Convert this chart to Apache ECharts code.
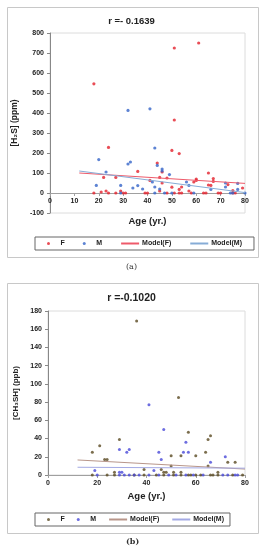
<!DOCTYPE html>
<html><head><meta charset="utf-8">
<script src="https://cdn.jsdelivr.net/npm/echarts@6/dist/echarts.min.js"></script>
<style>html,body{margin:0;padding:0;background:#fff}#c{width:263px;height:550px}</style>
</head><body><div id="c"></div>
<script>
// Panel (a): [H2S] (ppm) vs age
const titleA = 'r =- 0.1639';
const femaleA = [[18,546],[51,725],[61,750],[51,365],[24,228],[50,213],[53,197],[44,150],[46,105],[36,108],
  [22,78],[27,78],[41,63],[45,78],[48,75],[46,50],[50,29],[54,30],[53,18],[59,55],[60,63],[60,70],[65,100],
  [66,38],[67,72],[67,58],[65,40],[73,42],[75,12],[79,25],[23,10],[21,5],[29,10],[45,10],[57,10],
  [18,0],[24,0],[27,0],[30,0],[31,0],[39,0],[40,0],[48,0],[51,0],[53,0],[54,0],[58,0],[63,0],[64,0],[69,0],[70,0],[75,0],[76,0]];
const maleA = [[32,413],[41,421],[20,167],[43,225],[32,145],[33,155],[44,138],[46,120],[46,110],[23,105],
  [49,92],[42,55],[19,38],[29,38],[36,37],[34,25],[38,20],[45,20],[43,30],[56,55],[57,38],[66,18],[72,50],
  [77,48],[72,30],[77,18],[29,0],[43,0],[47,0],[50,0],[59,0],[74,0],[75,0],[80,0]];
const modelFA = [[12,100],[80,48]];
const modelMA = [[12,110],[80,2]];

// Panel (b): [CH3SH] (ppb) vs age
const titleB = 'r =-0.1020';
const femaleB = [[36,169],[53,85],[18,25],[21,32],[23,17],[24,17],[29,39],[39,6],[46,6],[47,3],[48,3],[50,21],
  [50,10],[54,21],[57,47],[60,21],[64,25],[65,39],[66,43],[65,10],[73,14],[76,14],[69,3],[54,3],[51,3],[27,3],
  [18,0],[24,0],[27,0],[35,0],[39,0],[44,0],[47,0],[51,0],[54,0],[57,0],[58,0],[60,0],[62,0],[66,0],[67,0],[69,0],[75,0],[79,0]];
const maleB = [[41,77],[19,5],[29,28],[32,25],[33,28],[43,5],[45,25],[46,17],[47,50],[55,25],[56,36],[57,25],
  [66,14],[72,20],[29,3],[30,3],[20,0],[29,0],[31,0],[33,0],[35,0],[37,0],[41,0],[45,0],[49,0],[52,0],[56,0],
  [59,0],[63,0],[71,0],[73,0],[76,0],[77,0]];
const modelFB = [[12,16.5],[80,6.5]];
const modelMB = [[12,8.5],[80,7.5]];

const legendNames = ['F','M','Model(F)','Model(M)'];
const colorsA = ['#e3202c','#3464c8','#ee5a6a','#86acd6'];
const colorsB = ['#5a4a22','#4848d8','#b8968a','#a4aae4'];
const FONT = 'Liberation Sans, Arial, sans-serif';
const HIDDEN = {opacity:0};

const chart = echarts.init(document.getElementById('c'), null, {renderer:'canvas'});

function xAx(gi, interval, gap, offset){
  return {gridIndex:gi, type:'value', min:0, max:80, interval:interval, offset:offset,
    name:'Age (yr.)', nameLocation:'middle', nameGap:gap, nameMoveOverlap:false,
    nameTextStyle:{fontFamily:FONT, fontWeight:'bold', fontSize:9.5, color:'#222'},
    axisLine:{onZero:false, lineStyle:{color:'#a0a0a0', width:1}},
    axisTick:{show:true, length:3, lineStyle:{color:'#a0a0a0'}},
    axisLabel:{fontFamily:FONT, fontWeight:'bold', fontSize:7, color:'#222', margin:5},
    splitLine:{show:false}};
}
function yAx(gi, min, max, interval, name, gap, fs){
  return {gridIndex:gi, type:'value', min:min, max:max, interval:interval,
    name:name, nameLocation:'middle', nameGap:gap, nameRotate:90,
    nameTextStyle:{fontFamily:FONT, fontWeight:'bold', fontSize:fs, color:'#222'},
    axisLine:{show:true, lineStyle:{color:'#888', width:1}},
    axisTick:{show:true, length:3, lineStyle:{color:'#888'}},
    axisLabel:{fontFamily:FONT, fontWeight:'bold', fontSize:7, color:'#222', margin:6},
    splitLine:{show:false}};
}
function legendCfg(top, left, suffix, colors, gap, padR){
  return {top:top, left:left, orient:'horizontal', itemWidth:18, itemHeight:3, itemGap:gap,
    padding:[3,padR,3,12], borderColor:'#666', borderWidth:1, backgroundColor:'#fff',
    selectedMode:false,
    data: legendNames.map((n,i)=> i<2
      ? {name:n+suffix, icon:'circle', itemStyle:{color:colors[i], borderWidth:0}}
      : {name:n+suffix, itemStyle:HIDDEN}),
    formatter: n => n.replace(suffix,''),
    textStyle:{fontFamily:FONT, fontWeight:'bold', fontSize:7, color:'#222', padding:[0,0,0,-2]}};
}

const option = {
  backgroundColor:'#fff',
  animation:false,
  title:[
    {text:titleA, left:'center', top:11, textStyle:{fontFamily:FONT, fontWeight:'bold', fontSize:9.5, color:'#222'}},
    {text:titleB, left:'center', top:288, textStyle:{fontFamily:FONT, fontWeight:'bold', fontSize:10.5, color:'#222'}}
  ],
  grid:[
    {left:50, top:33, width:195, height:180, show:true, borderColor:'#dcdcdc', borderWidth:1, backgroundColor:'transparent'},
    {left:48, top:311, width:197, height:164, show:true, borderColor:'#dcdcdc', borderWidth:1, backgroundColor:'transparent'}
  ],
  // panel (a): x axis sits on the y = 0 line (100 of 900 units above the grid bottom = 20 px)
  xAxis:[xAx(0, 10, 23, -20), xAx(1, 20, 16, 0)],
  yAxis:[yAx(0, -100, 800, 100, '[H\u2082S] (ppm)', 25, 8.5), yAx(1, 0, 180, 20, '[CH\u2083SH] (ppb)', 22, 8)],
  legend:[legendCfg(237, 35, '', colorsA, 18, 12), legendCfg(513, 35, ' (b)', colorsB, 12, 6)],
  graphic:[
    {type:'rect', shape:{x:7.5, y:7.5, width:251, height:250}, style:{fill:'none', stroke:'#c8c8c8', lineWidth:1}, z:-10},
    {type:'rect', shape:{x:7.5, y:283.5, width:251, height:250}, style:{fill:'none', stroke:'#c8c8c8', lineWidth:1}, z:-10},
    {type:'text', left:126, top:263, style:{text:'(a)', font:'8px "DejaVu Serif", serif', fill:'#333'}},
    {type:'text', left:126, top:538, style:{text:'(b)', font:'bold 8px "DejaVu Serif", serif', fill:'#333'}}
  ],
  series:[
    {name:'F', type:'scatter', xAxisIndex:0, yAxisIndex:0, data:femaleA, symbol:'circle', symbolSize:3.2, itemStyle:{color:colorsA[0]}},
    {name:'M', type:'scatter', xAxisIndex:0, yAxisIndex:0, data:maleA, symbol:'circle', symbolSize:3.2, itemStyle:{color:colorsA[1]}},
    {name:'Model(F)', type:'line', xAxisIndex:0, yAxisIndex:0, data:modelFA, symbol:'none', showSymbol:false, lineStyle:{color:colorsA[2], width:1}, itemStyle:{color:colorsA[2]}},
    {name:'Model(M)', type:'line', xAxisIndex:0, yAxisIndex:0, data:modelMA, symbol:'none', showSymbol:false, lineStyle:{color:colorsA[3], width:1}, itemStyle:{color:colorsA[3]}},
    {name:'F (b)', type:'scatter', xAxisIndex:1, yAxisIndex:1, data:femaleB, symbol:'circle', symbolSize:3, itemStyle:{color:colorsB[0]}},
    {name:'M (b)', type:'scatter', xAxisIndex:1, yAxisIndex:1, data:maleB, symbol:'circle', symbolSize:3, itemStyle:{color:colorsB[1]}},
    {name:'Model(F) (b)', type:'line', xAxisIndex:1, yAxisIndex:1, data:modelFB, symbol:'none', showSymbol:false, lineStyle:{color:colorsB[2], width:1}, itemStyle:{color:colorsB[2]}},
    {name:'Model(M) (b)', type:'line', xAxisIndex:1, yAxisIndex:1, data:modelMB, symbol:'none', showSymbol:false, lineStyle:{color:colorsB[3], width:1}, itemStyle:{color:colorsB[3]}}
  ]
};
chart.setOption(option);
</script></body></html>
